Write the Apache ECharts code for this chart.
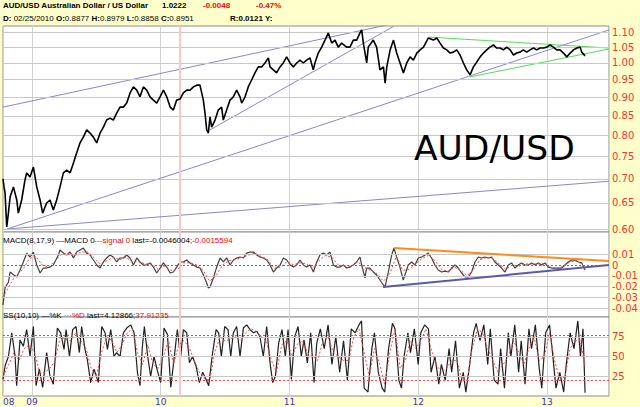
<!DOCTYPE html>
<html>
<head>
<meta charset="utf-8">
<script src="https://cdn.jsdelivr.net/npm/echarts@6/dist/echarts.min.js"></script>
<style>
  html, body { margin: 0; padding: 0; background: #ffffcc; }
  #chart { width: 640px; height: 407px; }
</style>
</head>
<body>
<div id="chart"></div>
<script>
// time is in decimal years
const X_MIN = 2008.775, X_MAX = 2013.482;
const cursorDate = 2010.150;

// AUD/USD close
const price = [
  [2008.775,0.700],[2008.783,0.683],[2008.791,0.670],[2008.804,0.604],[2008.817,0.630],[2008.830,0.662],
  [2008.856,0.683],[2008.882,0.656],[2008.894,0.630],[2008.920,0.656],[2008.946,0.698],[2008.959,0.713],
  [2008.985,0.704],[2009.011,0.726],[2009.037,0.683],[2009.063,0.656],[2009.083,0.630],[2009.114,0.650],
  [2009.140,0.656],[2009.166,0.636],[2009.192,0.656],[2009.218,0.683],[2009.244,0.713],[2009.270,0.719],
  [2009.296,0.713],[2009.322,0.735],[2009.347,0.758],[2009.373,0.782],[2009.399,0.796],[2009.425,0.814],
  [2009.451,0.806],[2009.477,0.796],[2009.503,0.782],[2009.529,0.806],[2009.555,0.821],[2009.580,0.839],
  [2009.606,0.844],[2009.632,0.839],[2009.658,0.857],[2009.684,0.873],[2009.710,0.873],[2009.736,0.884],
  [2009.762,0.912],[2009.788,0.929],[2009.814,0.920],[2009.839,0.901],[2009.865,0.929],[2009.891,0.920],
  [2009.917,0.901],[2009.943,0.892],[2009.969,0.884],[2009.995,0.901],[2010.021,0.920],[2010.047,0.901],
  [2010.073,0.873],[2010.098,0.865],[2010.124,0.892],[2010.150,0.895],[2010.176,0.912],[2010.202,0.920],
  [2010.228,0.920],[2010.254,0.929],[2010.280,0.934],[2010.305,0.934],[2010.331,0.892],[2010.344,0.857],
  [2010.357,0.814],[2010.370,0.806],[2010.383,0.847],[2010.396,0.821],[2010.422,0.839],[2010.447,0.865],
  [2010.473,0.873],[2010.486,0.839],[2010.512,0.865],[2010.538,0.892],[2010.564,0.901],[2010.590,0.920],
  [2010.616,0.901],[2010.629,0.884],[2010.655,0.901],[2010.680,0.929],[2010.706,0.949],[2010.732,0.970],
  [2010.758,0.988],[2010.784,0.988],[2010.810,1.000],[2010.836,1.016],[2010.849,0.988],[2010.875,0.979],
  [2010.900,0.970],[2010.926,0.988],[2010.952,1.000],[2010.978,1.019],[2011.004,1.000],[2011.030,0.988],
  [2011.056,1.000],[2011.082,1.009],[2011.108,1.000],[2011.133,1.009],[2011.159,1.016],[2011.185,0.979],
  [2011.198,1.000],[2011.224,1.031],[2011.250,1.050],[2011.276,1.073],[2011.302,1.097],[2011.328,1.063],
  [2011.354,1.073],[2011.379,1.050],[2011.405,1.063],[2011.444,1.050],[2011.470,1.050],[2011.496,1.073],
  [2011.522,1.073],[2011.548,1.097],[2011.561,1.107],[2011.574,1.063],[2011.600,1.000],[2011.612,1.050],
  [2011.651,1.073],[2011.677,1.050],[2011.703,0.979],[2011.730,0.988],[2011.743,0.940],[2011.756,0.988],
  [2011.782,1.041],[2011.808,1.073],[2011.833,1.031],[2011.859,1.000],[2011.885,0.970],[2011.911,1.000],
  [2011.937,1.019],[2011.963,1.009],[2011.989,1.031],[2012.015,1.041],[2012.041,1.050],[2012.079,1.080],
  [2012.118,1.073],[2012.144,1.080],[2012.170,1.063],[2012.196,1.047],[2012.222,1.041],[2012.248,1.031],
  [2012.274,1.034],[2012.299,1.041],[2012.325,1.025],[2012.351,1.000],[2012.377,0.979],[2012.403,0.964],
  [2012.429,0.988],[2012.455,1.003],[2012.481,1.019],[2012.507,1.031],[2012.532,1.041],[2012.558,1.050],
  [2012.584,1.057],[2012.610,1.047],[2012.636,1.047],[2012.662,1.041],[2012.688,1.050],[2012.714,1.041],
  [2012.740,1.025],[2012.765,1.031],[2012.791,1.034],[2012.817,1.041],[2012.843,1.034],[2012.869,1.041],
  [2012.895,1.047],[2012.921,1.041],[2012.947,1.047],[2012.973,1.047],[2012.999,1.050],[2013.024,1.057],
  [2013.050,1.050],[2013.076,1.041],[2013.102,1.041],[2013.128,1.031],[2013.154,1.019],[2013.180,1.031],
  [2013.206,1.041],[2013.232,1.047],[2013.258,1.050],[2013.270,1.034],[2013.296,1.0222]
];
const lastPrice = 1.0222;

// trend lines drawn on the price panel (date, price)
const channelTop = [[2008.775,0.873],[2011.758,1.124]];
const wedgeLine = [[2010.383,0.814],[2011.812,1.120]];
const longSupport = [[2008.806,0.600],[2013.482,1.107]];
const flatSupport = [[2008.806,0.600],[2013.482,0.695]];
const greenTop = [[2012.084,1.083],[2013.482,1.047]];
const greenBottom = [[2012.402,0.958],[2013.482,1.044]];

// MACD(8,17,9)
const macd = [
  [2008.775,-0.037],[2008.791,-0.021],[2008.817,-0.016],[2008.830,-0.0065],[2008.856,-0.009],[2008.882,-0.011],
  [2008.907,-0.0046],[2008.933,0.0028],[2008.959,0.011],[2008.985,0.0074],[2009.011,0.012],[2009.037,0],
  [2009.063,-0.0074],[2009.088,-0.0028],[2009.114,-0.0028],[2009.140,-0.0019],[2009.166,0],[2009.205,0.0093],
  [2009.218,0.0139],[2009.244,0.011],[2009.270,0.0093],[2009.296,0.012],[2009.322,0.0065],[2009.347,0.012],
  [2009.373,0.0139],[2009.399,0.0157],[2009.425,0.011],[2009.451,0.0093],[2009.477,0.0046],[2009.503,0],
  [2009.529,-0.0028],[2009.555,0.0028],[2009.580,0.0065],[2009.606,0.0093],[2009.632,0.0074],[2009.658,0.0028],
  [2009.684,0.0065],[2009.710,0.0065],[2009.736,0.0093],[2009.762,0.0065],[2009.788,0],[2009.814,0.0065],
  [2009.839,0.0028],[2009.865,0],[2009.891,0],[2009.917,0.0019],[2009.943,-0.0019],[2009.969,-0.0074],
  [2009.995,-0.0028],[2010.021,0.0019],[2010.047,-0.0019],[2010.073,-0.0074],[2010.098,-0.0065],[2010.124,-0.0019],
  [2010.150,0.0028],[2010.176,0.0028],[2010.202,0.0046],[2010.228,0.0019],[2010.254,0],[2010.280,-0.0019],
  [2010.306,-0.0028],[2010.332,-0.0093],[2010.357,-0.0167],[2010.370,-0.0213],[2010.383,-0.0204],[2010.409,-0.012],
  [2010.435,-0.0019],[2010.461,0.0065],[2010.487,0.0028],[2010.513,0.0065],[2010.539,0],[2010.565,0.0046],
  [2010.590,0.0065],[2010.616,0.0074],[2010.642,0.0065],[2010.668,0.011],[2010.694,0.012],[2010.720,0.012],
  [2010.746,0.0093],[2010.772,0.0074],[2010.798,0.0065],[2010.823,0.0046],[2010.849,0],[2010.875,-0.0065],
  [2010.901,-0.0028],[2010.927,0],[2010.953,0.0065],[2010.979,0.0046],[2011.005,0],[2011.031,-0.0019],
  [2011.056,0],[2011.082,0.0046],[2011.108,0],[2011.134,-0.0019],[2011.160,0],[2011.186,-0.0065],
  [2011.212,0.0028],[2011.237,0.0093],[2011.263,0.011],[2011.289,0.0093],[2011.315,0.012],[2011.341,0],
  [2011.366,-0.0019],[2011.392,-0.0019],[2011.418,0],[2011.444,-0.0028],[2011.470,-0.0019],[2011.496,0],
  [2011.522,0.0028],[2011.548,0.0074],[2011.561,0],[2011.587,-0.012],[2011.599,-0.0028],[2011.625,-0.0028],
  [2011.651,-0.0065],[2011.677,-0.0093],[2011.703,-0.0139],[2011.729,-0.0185],[2011.742,-0.0204],[2011.768,-0.0065],
  [2011.794,0.0093],[2011.812,0.0157],[2011.832,0.0074],[2011.858,-0.0019],[2011.884,-0.0139],[2011.897,-0.0093],
  [2011.923,0],[2011.949,0.0028],[2011.975,0],[2012.001,0.0065],[2012.027,0.0074],[2012.053,0.0093],
  [2012.078,0.011],[2012.104,0.0065],[2012.130,0],[2012.156,-0.0046],[2012.182,-0.0065],[2012.208,-0.0056],
  [2012.234,-0.0065],[2012.260,-0.0028],[2012.286,0],[2012.311,-0.0028],[2012.337,-0.0074],[2012.363,-0.0111],
  [2012.389,-0.0111],[2012.415,-0.0065],[2012.441,0.0028],[2012.467,0.0074],[2012.493,0.0065],[2012.519,0.0074],
  [2012.544,0.0065],[2012.570,0.0074],[2012.596,0.0028],[2012.622,0],[2012.648,-0.0028],[2012.674,-0.0065],
  [2012.700,0],[2012.726,0.0019],[2012.751,-0.0028],[2012.777,0],[2012.803,0.0019],[2012.829,0],
  [2012.855,0],[2012.881,0.0019],[2012.907,0],[2012.933,0.0019],[2012.959,0],[2012.985,0.0019],
  [2013.010,-0.0019],[2013.036,-0.0028],[2013.062,-0.0028],[2013.088,-0.0028],[2013.114,-0.0028],[2013.140,0],
  [2013.166,0.0028],[2013.192,0.0046],[2013.218,0.0046],[2013.244,0.0028],[2013.270,0.0019],[2013.296,-0.0046]
];
const signal = [
  [2008.775,-0.030],[2008.82,-0.020],[2008.87,-0.010],[2008.93,-0.004],[2008.98,0.006],[2009.03,0.008],
  [2009.08,0.000],[2009.13,-0.002],[2009.18,0.004],[2009.23,0.010],[2009.28,0.010],[2009.33,0.009],
  [2009.38,0.012],[2009.43,0.012],[2009.48,0.007],[2009.53,0.001],[2009.58,0.004],[2009.63,0.007],
  [2009.68,0.005],[2009.73,0.007],[2009.78,0.003],[2009.83,0.003],[2009.88,0.001],[2009.93,0.001],
  [2009.98,-0.004],[2010.03,-0.001],[2010.08,-0.005],[2010.13,-0.004],[2010.18,0.002],[2010.23,0.002],
  [2010.28,0.000],[2010.33,-0.005],[2010.38,-0.015],[2010.43,-0.010],[2010.48,0.000],[2010.53,0.004],
  [2010.58,0.005],[2010.63,0.007],[2010.68,0.009],[2010.73,0.011],[2010.78,0.008],[2010.83,0.005],
  [2010.88,-0.003],[2010.93,-0.002],[2010.98,0.003],[2011.03,0.000],[2011.08,0.002],[2011.13,0.001],
  [2011.18,-0.003],[2011.23,0.004],[2011.28,0.009],[2011.33,0.007],[2011.38,0.000],[2011.43,-0.001],
  [2011.48,-0.001],[2011.53,0.003],[2011.58,-0.002],[2011.63,-0.005],[2011.68,-0.008],[2011.73,-0.015],
  [2011.78,-0.008],[2011.83,0.008],[2011.88,-0.005],[2011.93,-0.004],[2011.98,0.001],[2012.03,0.006],
  [2012.08,0.009],[2012.13,0.004],[2012.18,-0.004],[2012.23,-0.006],[2012.28,-0.002],[2012.33,-0.005],
  [2012.38,-0.010],[2012.43,-0.004],[2012.48,0.005],[2012.53,0.007],[2012.58,0.006],[2012.63,0.001],
  [2012.68,-0.004],[2012.73,0.000],[2012.78,-0.001],[2012.83,0.001],[2012.88,0.001],[2012.93,0.001],
  [2012.98,0.001],[2013.03,-0.002],[2013.08,-0.003],[2013.13,-0.001],[2013.18,0.003],[2013.23,0.004],
  [2013.296,-0.0016]
];
const macdTop = [[2011.812,0.0157],[2013.482,0.0037]];
const macdBottom = [[2011.727,-0.0204],[2013.482,0.0]];

// SS(10,10) %K and %D
const pctK = [
  [2008.775,21],[2008.791,38],[2008.817,50],[2008.843,80],[2008.869,50],[2008.881,13],[2008.907,71],[2008.933,63],
  [2008.959,84],[2008.985,50],[2009.011,88],[2009.032,13],[2009.057,34],[2009.083,11],[2009.114,55],[2009.140,25],
  [2009.166,15],[2009.197,86],[2009.223,80],[2009.249,59],[2009.265,84],[2009.291,50],[2009.316,84],[2009.342,88],
  [2009.368,55],[2009.386,88],[2009.412,59],[2009.430,46],[2009.456,17],[2009.482,34],[2009.516,17],[2009.542,88],
  [2009.568,80],[2009.586,59],[2009.612,84],[2009.637,50],[2009.658,55],[2009.684,50],[2009.710,80],[2009.736,86],
  [2009.767,90],[2009.793,80],[2009.819,30],[2009.839,13],[2009.858,63],[2009.873,88],[2009.899,50],[2009.922,25],
  [2009.948,50],[2009.974,32],[2010.000,17],[2010.026,86],[2010.052,78],[2010.078,11],[2010.103,46],[2010.129,84],
  [2010.155,50],[2010.176,84],[2010.202,80],[2010.223,42],[2010.248,50],[2010.274,38],[2010.300,17],[2010.326,30],
  [2010.352,21],[2010.373,13],[2010.399,50],[2010.430,84],[2010.450,80],[2010.471,50],[2010.497,88],[2010.523,84],
  [2010.544,50],[2010.564,80],[2010.590,88],[2010.616,50],[2010.642,86],[2010.668,90],[2010.694,84],[2010.720,80],
  [2010.746,82],[2010.771,75],[2010.797,50],[2010.823,88],[2010.849,42],[2010.870,17],[2010.891,25],[2010.916,67],
  [2010.942,84],[2010.968,50],[2010.989,84],[2011.015,21],[2011.041,75],[2011.067,88],[2011.092,50],[2011.113,71],
  [2011.139,42],[2011.165,80],[2011.191,17],[2011.212,67],
  [2011.24,85],[2011.27,60],[2011.30,90],[2011.33,40],[2011.36,75],[2011.39,30],[2011.42,70],[2011.45,20],
  [2011.48,85],[2011.51,80],[2011.54,90],[2011.56,95],[2011.58,10],[2011.61,5],[2011.64,60],[2011.66,80],
  [2011.69,30],[2011.72,10],[2011.74,5],[2011.77,60],[2011.80,92],[2011.82,85],[2011.85,20],[2011.87,10],
  [2011.89,50],[2011.92,80],[2011.94,55],[2011.97,85],[2012.00,40],[2012.02,80],[2012.05,90],[2012.08,85],
  [2012.10,30],[2012.13,50],[2012.16,15],[2012.18,40],[2012.21,20],[2012.24,60],[2012.26,30],[2012.29,70],
  [2012.32,10],[2012.35,30],[2012.37,5],[2012.40,40],[2012.43,80],[2012.45,92],[2012.48,70],[2012.51,90],
  [2012.54,40],[2012.56,85],[2012.59,20],[2012.62,15],[2012.64,60],[2012.67,10],[2012.70,80],[2012.72,50],
  [2012.75,90],[2012.78,30],[2012.80,70],[2012.83,15],[2012.86,85],[2012.88,60],[2012.91,90],[2012.94,35],
  [2012.96,10],[2012.99,80],[2013.02,90],[2013.04,60],[2013.07,10],[2013.10,30],[2013.13,5],[2013.15,40],
  [2013.18,80],[2013.21,60],[2013.24,95],[2013.26,50],[2013.28,85],[2013.296,4]
];
const pctD = [
  [2008.775,25],[2008.82,40],[2008.86,55],[2008.90,45],[2008.94,60],[2008.98,65],[2009.02,55],[2009.06,30],
  [2009.10,30],[2009.14,35],[2009.18,45],[2009.22,75],[2009.26,72],[2009.30,70],[2009.34,80],[2009.38,70],
  [2009.42,60],[2009.46,35],[2009.50,25],[2009.54,55],[2009.58,75],[2009.62,70],[2009.66,55],[2009.70,65],
  [2009.74,80],[2009.78,85],[2009.82,55],[2009.86,40],[2009.90,65],[2009.94,40],[2009.98,35],[2010.02,50],
  [2010.06,70],[2010.10,40],[2010.14,65],[2010.18,70],[2010.22,62],[2010.26,45],[2010.30,30],[2010.34,22],
  [2010.38,20],[2010.42,55],[2010.46,75],[2010.50,70],[2010.54,72],[2010.58,75],[2010.62,70],[2010.66,80],
  [2010.70,85],[2010.74,82],[2010.78,75],[2010.82,70],[2010.86,45],[2010.90,30],[2010.94,65],[2010.98,70],
  [2011.02,50],[2011.06,65],[2011.10,70],[2011.14,55],[2011.18,50],[2011.22,45],[2011.26,70],[2011.30,75],
  [2011.34,55],[2011.38,50],[2011.42,45],[2011.46,45],[2011.50,75],[2011.54,85],[2011.58,55],[2011.62,25],
  [2011.66,60],[2011.70,40],[2011.74,15],[2011.78,55],[2011.82,85],[2011.86,35],[2011.90,45],[2011.94,70],
  [2011.98,60],[2012.02,70],[2012.06,85],[2012.10,60],[2012.14,40],[2012.18,30],[2012.22,35],[2012.26,45],
  [2012.30,45],[2012.34,20],[2012.38,20],[2012.42,60],[2012.46,85],[2012.50,80],[2012.54,60],[2012.58,45],
  [2012.62,30],[2012.66,40],[2012.70,50],[2012.74,70],[2012.78,55],[2012.82,40],[2012.86,60],[2012.90,75],
  [2012.94,45],[2012.98,50],[2013.02,80],[2013.06,45],[2013.10,20],[2013.14,25],[2013.18,60],[2013.22,70],
  [2013.26,70],[2013.296,38]
];

// tick labels on the right
const priceTicks = [0.60, 0.65, 0.70, 0.75, 0.80, 0.85, 0.90, 0.95, 1.00, 1.05, 1.10];
const macdTicks = [0.01, 0, -0.01, -0.02, -0.03, -0.04];
const macdTickLabels = ['0.01', '0', '-0.01', '-0.02', '-0.03', '-0.04'];
const ssTicks = [25, 50, 75];
const ssBands = [20, 77];

const LABEL_RED = '#ff3030';
const GRID_GRAY = '#c8c8c8';

function tickLine(v, text, color, type) {
  return {
    yAxis: v,
    lineStyle: { color: color || GRID_GRAY, type: type || 'solid', width: 1 },
    label: { show: text !== '', position: 'end', formatter: text, color: LABEL_RED,
             fontSize: 10, fontFamily: 'DejaVu Sans', distance: 3 }
  };
}
function cursorLine() {
  return { xAxis: cursorDate, lineStyle: { color: '#ffc4c4', width: 2, type: 'solid' }, label: { show: false } };
}
function helper(idx, lines) {
  return {
    type: 'line', xAxisIndex: idx, yAxisIndex: idx, data: [], silent: true, z: 1,
    markLine: { symbol: 'none', silent: true, animation: false, data: lines.concat([cursorLine()]) }
  };
}
function plain(idx, data, color, width, dashed, z) {
  return {
    type: 'line', xAxisIndex: idx, yAxisIndex: idx, data: data, showSymbol: false, silent: true,
    lineStyle: { color: color, width: width, type: dashed ? [2, 2] : 'solid' }, z: z || 3
  };
}

const myChart = echarts.init(document.getElementById('chart'), null, { renderer: 'svg' });

const xBase = {
  type: 'value', min: X_MIN, max: X_MAX, splitNumber: 5,
  axisLine: { show: false }, axisTick: { show: false }, axisLabel: { show: false },
  splitLine: { show: true, lineStyle: { color: '#d2d2d2', width: 1 } }
};
const gridBase = { left: 3, right: 31, show: true, backgroundColor: '#ffffff', borderColor: '#8c8c8c', borderWidth: 1, outerBoundsMode: 'none' };
const headFont = '"Liberation Sans"';

myChart.setOption({
  animation: false,
  backgroundColor: '#ffffcc',
  grid: [
    Object.assign({ top: 26, height: 206 }, gridBase),
    Object.assign({ top: 232, height: 85 }, gridBase),
    Object.assign({ top: 317, height: 79 }, gridBase)
  ],
  xAxis: [
    Object.assign({ gridIndex: 0 }, xBase),
    Object.assign({ gridIndex: 1 }, xBase),
    Object.assign({ gridIndex: 2 }, xBase, {
      axisLabel: {
        show: true, color: '#3333cc', fontSize: 9, fontFamily: 'DejaVu Sans', margin: 1, lineHeight: 9,
        showMaxLabel: false, alignMinLabel: 'left',
        formatter: function (v) { return ('0' + (Math.floor(v + 1e-6) % 100)).slice(-2); }
      }
    })
  ],
  yAxis: [
    { gridIndex: 0, type: 'log', min: 0.5945, max: 1.1205, axisLine: { show: false }, axisTick: { show: false },
      axisLabel: { show: false }, splitLine: { show: false } },
    { gridIndex: 1, type: 'value', min: -0.04815, max: 0.03056, axisLine: { show: false }, axisTick: { show: false },
      axisLabel: { show: false }, splitLine: { show: false } },
    { gridIndex: 2, type: 'value', min: 0, max: 100, axisLine: { show: false }, axisTick: { show: false },
      axisLabel: { show: false }, splitLine: { show: false } }
  ],
  graphic: [
    { type: 'text', left: 3, top: 1, z: 10, style: { text: 'AUD/USD Australian Dollar / US Dollar', fill: '#000', font: 'bold 8px ' + headFont } },
    { type: 'text', left: 162, top: 1, z: 10, style: { text: '1.0222', fill: '#000', font: 'bold 8px ' + headFont } },
    { type: 'text', left: 203, top: 1, z: 10, style: { text: '-0.0048', fill: '#ff0000', font: 'bold 8px ' + headFont } },
    { type: 'text', left: 256, top: 1, z: 10, style: { text: '-0.47%', fill: '#ff0000', font: 'bold 8px ' + headFont } },
    { type: 'text', left: 3, top: 14, z: 10, style: {
        text: '{b|D:} 02/25/2010 {b|O:}0.8877 {b|H:}0.8979 {b|L:}0.8858 {b|C:}0.8951',
        fill: '#000', font: '8px ' + headFont,
        rich: { b: { fontWeight: 'bold', fontSize: 8, fontFamily: 'Liberation Sans', fill: '#000' } } } },
    { type: 'text', left: 230, top: 14, z: 10, style: { text: 'R:0.0121 Y:', fill: '#000', font: 'bold 8px ' + headFont } },
    { type: 'text', left: 3, top: 236, z: 10, style: {
        text: 'MACD(8,17,9) \u2014MACD 0{r|---signal 0} last=-0.0046004;{r|-0.0015594}',
        fill: '#000', font: '8px ' + headFont,
        rich: { r: { fill: '#ff0000', fontSize: 8, fontFamily: 'Liberation Sans' } } } },
    { type: 'text', left: 3, top: 311, z: 10, style: {
        text: 'SS(10,10) \u2014%K {r|\u00b7\u00b7\u00b7%D} last=4.12866;{r|37.91235}',
        fill: '#000', font: '8px ' + headFont,
        rich: { r: { fill: '#ff0000', fontSize: 8, fontFamily: 'Liberation Sans' } } } },
    { type: 'text', left: 414, top: 130, z: 10, style: { text: 'AUD/USD', fill: '#000', font: '34.5px "DejaVu Sans"' } }
  ],
  series: [
    helper(0, priceTicks.map(function (v) { return tickLine(v, v.toFixed(2)); })),
    helper(1, macdTicks.map(function (v, i) {
      return v === 0 ? tickLine(v, macdTickLabels[i], '#ff3030', [2, 2]) : tickLine(v, macdTickLabels[i]);
    })),
    helper(2, ssTicks.map(function (v) { return tickLine(v, String(v)); })
      .concat(ssBands.map(function (v) { return tickLine(v, '', '#ff4040', [2, 2]); }))),

    plain(0, channelTop, '#8888c8', 1),
    plain(0, wedgeLine, '#8888c8', 1),
    plain(0, longSupport, '#8888c8', 1),
    plain(0, flatSupport, '#8888c8', 1),
    plain(0, greenTop, '#55dd55', 1),
    plain(0, greenBottom, '#55dd55', 1),
    Object.assign(plain(0, price, '#000000', 1.6, false, 5), {
      markLine: {
        symbol: 'none', silent: true, animation: false, z: 20,
        data: [{
          yAxis: lastPrice, lineStyle: { opacity: 0 },
          label: { show: true, position: 'end', formatter: lastPrice.toFixed(4), distance: 0,
                   backgroundColor: '#ff0000', color: '#ffffff', fontWeight: 'bold', fontSize: 9.5,
                   fontFamily: 'Liberation Sans', padding: [2, 1, 1, 1] }
        }]
      }
    }),

    plain(1, macd, '#404040', 1.2, false, 4),
    plain(1, signal, '#ff4040', 1, true, 5),
    plain(1, macdTop, '#ff8c1a', 2, false, 6),
    plain(1, macdBottom, '#5a5aa8', 2, false, 6),

    plain(2, pctK, '#202020', 1.2, false, 4),
    plain(2, pctD, '#ff4040', 1, true, 5)
  ]
});
</script>
</body>
</html>
